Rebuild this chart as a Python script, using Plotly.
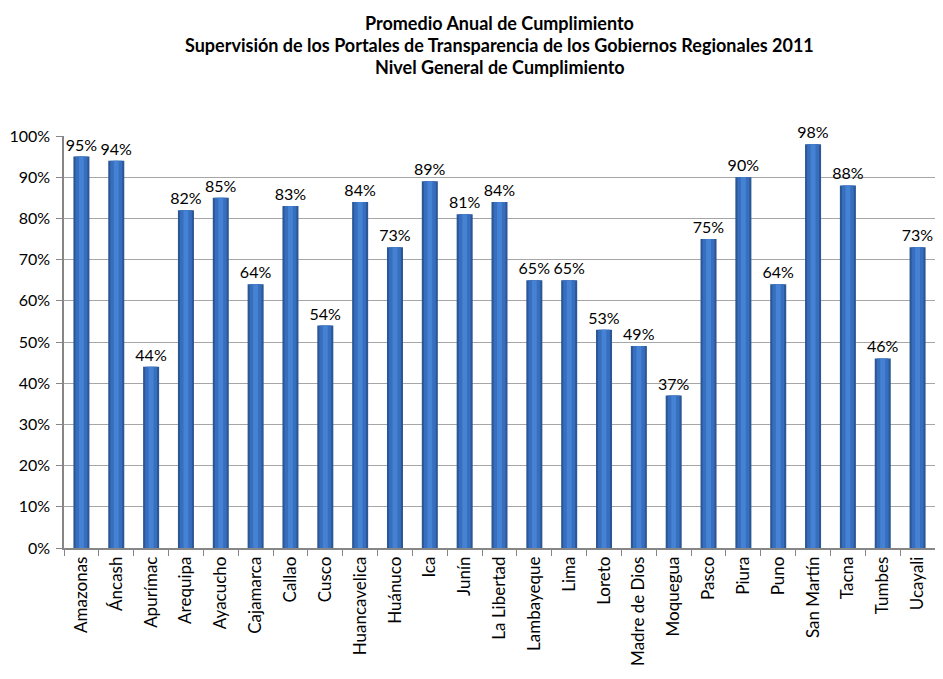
import plotly.graph_objects as go

regions = ["Amazonas", "Áncash", "Apurímac", "Arequipa", "Ayacucho", "Cajamarca", "Callao",
           "Cusco", "Huancavelica", "Huánuco", "Ica", "Junín", "La Libertad", "Lambayeque",
           "Lima", "Loreto", "Madre de Dios", "Moquegua", "Pasco", "Piura", "Puno",
           "San Martín", "Tacna", "Tumbes", "Ucayali"]
values = [95, 94, 44, 82, 85, 64, 83, 54, 84, 73, 89, 81, 84, 65, 65, 53, 49, 37, 75, 90,
          64, 98, 88, 46, 73]
yticks = list(range(0, 101, 10))
title_lines = ["Promedio Anual de Cumplimiento",
               "Supervisión de los Portales de Transparencia de los Gobiernos Regionales 2011",
               "Nivel General de Cumplimiento"]

font = "Lato, Liberation Sans, sans-serif"

fig = go.Figure()
# base cylinder body (darker edges)
fig.add_trace(go.Bar(x=regions, y=values, width=0.46,
                     marker=dict(color="#2B5797", line=dict(width=0)),
                     text=[f"{v}%" for v in values], textposition="outside",
                     constraintext="none",
                     textfont=dict(size=16, color="#000000", family=font),
                     cliponaxis=False, hoverinfo="skip"))
# mid highlight
fig.add_trace(go.Bar(x=regions, y=values, width=0.34,
                     marker=dict(color="#376EBE", line=dict(width=0)), hoverinfo="skip"))
# bright center highlight
fig.add_trace(go.Bar(x=regions, y=values, width=0.14,
                     marker=dict(color="#4682D4", line=dict(width=0)), hoverinfo="skip"))

title_y = [1.2736, 1.2203, 1.1671]
annotations = [dict(text=f"<b>{t}</b>", x=0.5, xref="paper", y=yy, yref="paper",
                    xanchor="center", yanchor="middle", showarrow=False,
                    font=dict(size=18, family=font, color="#000000"))
               for t, yy in zip(title_lines, title_y)]

fig.update_layout(
    width=943, height=679,
    barmode="overlay",
    showlegend=False,
    plot_bgcolor="white", paper_bgcolor="white",
    margin=dict(l=56, r=16, t=128, b=139),
    annotations=annotations,
    font=dict(family=font, size=17, color="#000000"),
    xaxis=dict(tickangle=-90, showline=True, linecolor="#868686", linewidth=1.5,
               ticks="outside", tickson="boundaries", ticklen=6, tickcolor="#868686",
               tickfont=dict(size=17, family=font), showgrid=False, automargin=False),
    yaxis=dict(range=[0, 100], tickvals=yticks, ticktext=[f"{t}%" for t in yticks],
               showline=True, linecolor="#868686", linewidth=1.5, ticks="outside",
               ticklen=6, tickcolor="#868686", showgrid=True, gridcolor="#A6A6A6",
               gridwidth=1, tickfont=dict(size=16, family=font), zeroline=False,
               automargin=False, ticklabelstandoff=3),
)

fig.write_html("out.html")
